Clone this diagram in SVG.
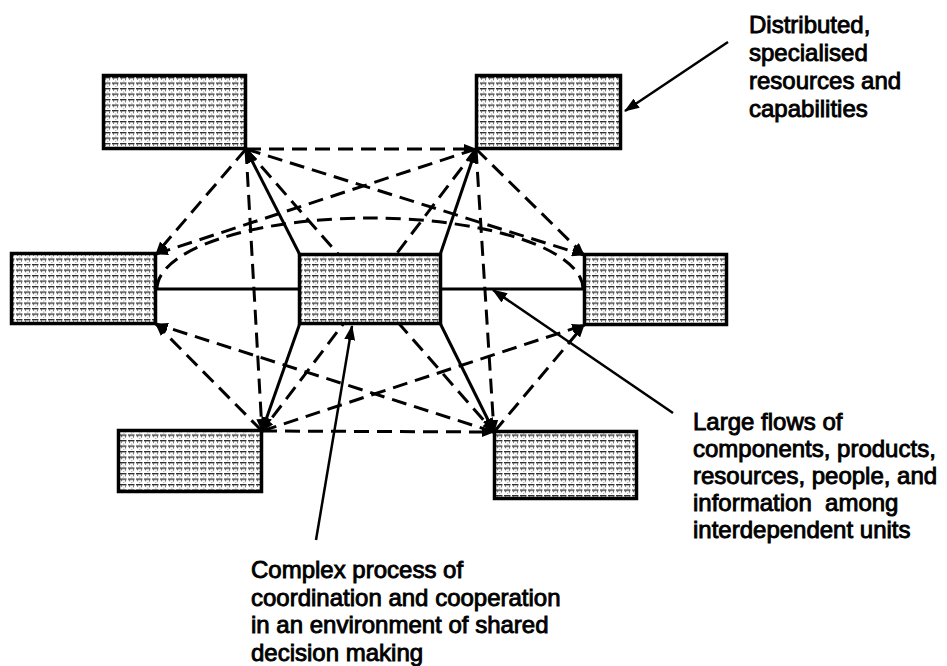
<svg xmlns="http://www.w3.org/2000/svg" width="947" height="666" viewBox="0 0 947 666">
  <style>
    .unit { fill: url(#grain); stroke: #000; stroke-width: 3.5; }
    .flow { fill: none; stroke: #000; stroke-width: 3; stroke-dasharray: 15 8; }
    .link { fill: none; stroke: #000; stroke-width: 3; }
    .note-line { fill: none; stroke: #000; stroke-width: 2.5; }
    .label { font-family: "Liberation Sans", Arial, sans-serif; font-size: 24px; fill: #000; stroke: #000; stroke-width: 0.9; }
  </style>
  <defs>
    <!-- printed-matter texture used inside each unit box -->
    <pattern id="grain" width="8" height="5.5" patternUnits="userSpaceOnUse">
      <rect width="8" height="5.5" fill="#fff"/>
      <rect x="0" y="0" width="6.5" height="1.3" fill="#2a2a2a"/>
      <rect x="1.2" y="1.3" width="0.9" height="1.5" fill="#444"/>
      <rect x="5" y="1.3" width="0.9" height="1.9" fill="#555"/>
      <rect x="3" y="3.6" width="1.4" height="0.7" fill="#888"/>
    </pattern>
    <marker id="head" markerUnits="userSpaceOnUse" markerWidth="15" markerHeight="11" refX="14" refY="5.5" orient="auto">
      <path d="M0,0 L15,5.5 L0,11 Z" fill="#000"/>
    </marker>
    <marker id="head-sm" markerUnits="userSpaceOnUse" markerWidth="13" markerHeight="10" refX="12" refY="5" orient="auto">
      <path d="M0,0 L13,5 L0,10 Z" fill="#000"/>
    </marker>
  </defs>

  <g id="connectors">
    <!-- dashed links between the outer units -->
    <line class="flow" x1="246" y1="149" x2="476" y2="149" marker-end="url(#head-sm)"/>
    <line class="flow" x1="246" y1="149" x2="156" y2="254" marker-end="url(#head-sm)"/>
    <line class="flow" x1="246" y1="149" x2="262" y2="431" marker-end="url(#head-sm)"/>
    <line class="flow" x1="246" y1="149" x2="494" y2="432" marker-end="url(#head-sm)"/>
    <line class="flow" x1="246" y1="149" x2="584" y2="255" marker-end="url(#head-sm)"/>
    <line class="flow" x1="476" y1="149" x2="156" y2="254" marker-end="url(#head-sm)"/>
    <line class="flow" x1="476" y1="149" x2="584" y2="255" marker-end="url(#head-sm)"/>
    <line class="flow" x1="476" y1="149" x2="494" y2="432" marker-end="url(#head-sm)"/>
    <line class="flow" x1="476" y1="149" x2="262" y2="431" marker-end="url(#head-sm)"/>
    <line class="flow" x1="262" y1="431" x2="156" y2="324" marker-end="url(#head-sm)"/>
    <line class="flow" x1="494" y1="432" x2="156" y2="324" marker-end="url(#head-sm)"/>
    <line class="flow" x1="262" y1="431" x2="584" y2="325" marker-end="url(#head-sm)"/>
    <line class="flow" x1="494" y1="432" x2="584" y2="325" marker-end="url(#head-sm)"/>
    <line class="flow" x1="262" y1="431" x2="494" y2="432" marker-end="url(#head-sm)"/>
    <path class="flow" d="M157,289 A213,71 0 0 1 583,289"/>

    <!-- solid links from the central unit -->
    <line class="link" x1="300" y1="255" x2="246" y2="149" marker-end="url(#head)"/>
    <line class="link" x1="440" y1="255" x2="476" y2="149" marker-end="url(#head)"/>
    <line class="link" x1="300" y1="323" x2="262" y2="431" marker-end="url(#head)"/>
    <line class="link" x1="440" y1="323" x2="494" y2="432" marker-end="url(#head)"/>
    <line class="link" x1="156" y1="289" x2="300" y2="289"/>
    <line class="link" x1="440" y1="289" x2="584" y2="289"/>

    <!-- annotation pointers -->
    <line class="note-line" x1="728" y1="42" x2="625" y2="111" marker-end="url(#head)"/>
    <line class="note-line" x1="673" y1="413" x2="493" y2="290" marker-end="url(#head)"/>
    <line class="note-line" x1="316" y1="540" x2="352" y2="326" marker-end="url(#head)"/>
  </g>

  <g id="unit-top-left"><rect class="unit" x="103.5" y="75.5" width="142" height="73"/></g>
  <g id="unit-top-right"><rect class="unit" x="476.5" y="75.5" width="144" height="73"/></g>
  <g id="unit-mid-left"><rect class="unit" x="11.5" y="253.5" width="144" height="70"/></g>
  <g id="unit-centre"><rect class="unit" x="299.5" y="254.5" width="141" height="69"/></g>
  <g id="unit-mid-right"><rect class="unit" x="584.5" y="254.5" width="142" height="70"/></g>
  <g id="unit-bottom-left"><rect class="unit" x="118.5" y="430.5" width="143" height="61"/></g>
  <g id="unit-bottom-right"><rect class="unit" x="494.5" y="431.5" width="142" height="67"/></g>

  <g id="note-resources">
    <text class="label" x="749" y="33">Distributed,</text>
    <text class="label" x="749" y="61">specialised</text>
    <text class="label" x="749" y="89">resources and</text>
    <text class="label" x="749" y="117">capabilities</text>
  </g>
  <g id="note-flows">
    <text class="label" x="693" y="430">Large flows of</text>
    <text class="label" x="693" y="457">components, products,</text>
    <text class="label" x="693" y="484">resources, people, and</text>
    <text class="label" x="693" y="511" xml:space="preserve">information  among</text>
    <text class="label" x="693" y="538">interdependent units</text>
  </g>
  <g id="note-coordination">
    <text class="label" x="251" y="578">Complex process of</text>
    <text class="label" x="251" y="606">coordination and cooperation</text>
    <text class="label" x="251" y="633">in an environment of shared</text>
    <text class="label" x="251" y="661">decision making</text>
  </g>
</svg>
